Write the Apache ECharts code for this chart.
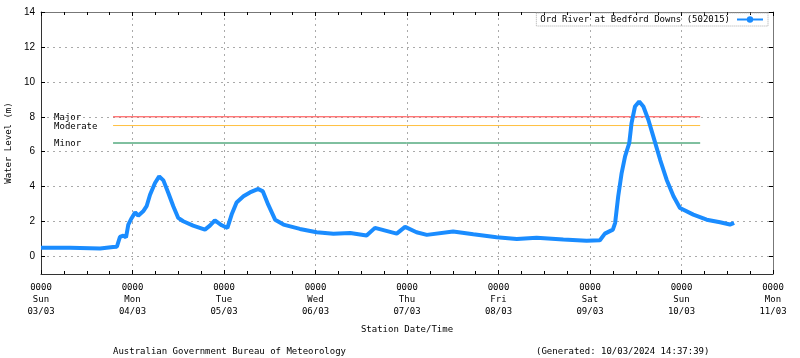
<!DOCTYPE html>
<html>
<head>
<meta charset="utf-8">
<script src="https://cdn.jsdelivr.net/npm/echarts@6/dist/echarts.min.js"></script>
<style>html,body{margin:0;padding:0;background:#fff}#c{width:800px;height:358px}</style>
</head>
<body>
<div id="c"></div>
<script>
// ---- data ----
var seriesName = 'Ord River at Bedford Downs (502015)';
// hours since Sun 03/03 00:00
var hours = [0, 7.6, 15.5, 18.9, 19.9, 20.7, 21.6, 22.3, 22.9, 23.8, 24.7, 25.5, 26.8, 27.7, 28.6, 29.9, 31.0, 32.1, 33.4, 34.7, 36.0, 37.3, 39.9, 43.0, 44.3, 45.6, 47.4, 48.9, 50.0, 51.3, 53.1, 54.8, 57.0, 58.2, 59.6, 61.4, 63.6, 67.9, 72.3, 76.7, 81.1, 85.4, 87.6, 93.3, 95.5, 98.5, 101.2, 108.1, 113.4, 119.5, 124.8, 130.0, 137.0, 143.1, 146.6, 147.9, 150.0, 150.6, 151.4, 152.3, 153.2, 154.3, 154.9, 155.8, 156.9, 158.0, 159.3, 160.6, 162.4, 164.1, 165.9, 167.6, 171.1, 174.6, 178.1, 180.7, 181.8];
var levels = [0.51, 0.50, 0.46, 0.55, 0.56, 1.12, 1.20, 1.09, 1.83, 2.21, 2.53, 2.34, 2.59, 2.88, 3.54, 4.21, 4.59, 4.36, 3.64, 2.88, 2.21, 2.02, 1.77, 1.54, 1.77, 2.07, 1.79, 1.64, 2.40, 3.10, 3.45, 3.67, 3.87, 3.73, 2.97, 2.11, 1.83, 1.58, 1.39, 1.31, 1.35, 1.20, 1.64, 1.31, 1.70, 1.39, 1.24, 1.43, 1.27, 1.10, 1.01, 1.07, 0.97, 0.90, 0.93, 1.31, 1.54, 1.93, 3.45, 4.78, 5.73, 6.50, 7.64, 8.59, 8.88, 8.59, 7.83, 6.88, 5.54, 4.40, 3.45, 2.78, 2.40, 2.11, 1.96, 1.83, 1.93];

var thresholdNames = ['Major', 'Moderate', 'Minor'];
var thresholdValues = [8, 7.5, 6.5];
var thresholdColors = ['#ff4040', '#ffc040', '#008040'];
var thresholdStart = 18.9, thresholdEnd = 172.9;

var xDayLabels = ['Sun', 'Mon', 'Tue', 'Wed', 'Thu', 'Fri', 'Sat', 'Sun', 'Mon'];
var xDateLabels = ['03/03', '04/03', '05/03', '06/03', '07/03', '08/03', '09/03', '10/03', '11/03'];
var yTicks = [0, 2, 4, 6, 8, 10, 12, 14];

var mono = 'DejaVu Sans Mono';
var chart = echarts.init(document.getElementById('c'), null, {renderer: 'canvas'});

var mainData = hours.map(function (h, i) { return [h, levels[i]]; });
var series = [{
  name: seriesName, type: 'line', data: mainData,
  showSymbol: false, symbol: 'circle', symbolSize: 5,
  lineStyle: {color: '#1a8cff', width: 4}, itemStyle: {color: '#1a8cff'},
  smooth: false, z: 5
}];
thresholdNames.forEach(function (n, i) {
  series.push({
    name: n, type: 'line', silent: true, showSymbol: false, symbol: 'none',
    data: [[thresholdStart, thresholdValues[i]], [thresholdEnd, thresholdValues[i]]],
    lineStyle: {color: thresholdColors[i], width: 1},
    z: 3,
    markPoint: {
      symbol: 'rect', symbolSize: [1, 1], silent: true,
      itemStyle: {color: 'rgba(0,0,0,0)'},
      data: [{coord: [thresholdStart, thresholdValues[i]],
        label: {show: true, formatter: n, position: 'inside', align: 'left', offset: [-59, 1],
          fontFamily: mono, fontSize: 9, color: '#000'}}]
    }
  });
});

chart.setOption({
  animation: false,
  backgroundColor: '#fff',
  grid: {left: 41, right: 27, top: 12, bottom: 84, outerBoundsMode: 'none', containLabel: false},
  title: [
    {text: 'Australian Government Bureau of Meteorology', left: 108, top: 342,
     textStyle: {fontFamily: mono, fontSize: 9, fontWeight: 'normal', color: '#000'}},
    {text: '(Generated: 10/03/2024 14:37:39)', left: 531, top: 342,
     textStyle: {fontFamily: mono, fontSize: 9, fontWeight: 'normal', color: '#000'}}
  ],
  legend: {
    data: [seriesName], right: 32, top: 13, itemWidth: 26, itemHeight: 8,
    align: 'right', padding: [2, 4, 2, 4], borderColor: '#aaa', borderWidth: 1, borderType: 'dotted',
    textStyle: {fontFamily: mono, fontSize: 9, color: '#000', padding: [0, 2, 0, 0]}
  },
  xAxis: [{
    type: 'value', min: 0, max: 192, interval: 24,
    name: 'Station Date/Time', nameLocation: 'middle', nameGap: 51,
    nameTextStyle: {fontFamily: mono, fontSize: 9, color: '#000'},
    axisLine: {onZero: false, lineStyle: {color: '#333', width: 1}},
    axisTick: {inside: true, length: 4, lineStyle: {color: '#000'}},
    minorTick: {show: true, splitNumber: 4, length: 3, lineStyle: {color: '#000'}},
    axisLabel: {fontFamily: mono, fontSize: 9, color: '#000', lineHeight: 12, margin: 8,
      formatter: function (v) { var i = Math.round(v / 24); return '0000\n' + xDayLabels[i] + '\n' + xDateLabels[i]; }},
    splitLine: {show: true, lineStyle: {color: '#aaa', type: [2, 4]}}
  }, {
    type: 'value', min: 0, max: 192, interval: 24, position: 'top',
    axisLine: {onZero: false, lineStyle: {color: '#777'}},
    axisTick: {inside: true, length: 4, lineStyle: {color: '#000'}},
    minorTick: {show: true, splitNumber: 4, length: 3, lineStyle: {color: '#000'}},
    axisLabel: {show: false}, splitLine: {show: false}
  }],
  yAxis: [{
    type: 'value', min: -1, max: 14,
    name: 'Water Level (m)', nameLocation: 'middle', nameGap: 28, nameRotate: 90,
    nameTextStyle: {fontFamily: mono, fontSize: 9, color: '#000'},
    axisLine: {show: true, onZero: false, lineStyle: {color: '#333'}},
    axisTick: {show: true, inside: true, length: 4, customValues: yTicks, lineStyle: {color: '#000'}},
    axisLabel: {fontFamily: 'Liberation Sans', fontSize: 10, color: '#000', margin: 6, customValues: yTicks},
    splitLine: {show: true, lineStyle: {color: '#aaa', type: [2, 4]}}
  }, {
    type: 'value', min: -1, max: 14, position: 'right',
    axisLine: {show: true, onZero: false, lineStyle: {color: '#777'}},
    axisTick: {show: true, inside: true, length: 4, customValues: yTicks, lineStyle: {color: '#000'}},
    axisLabel: {show: false}, splitLine: {show: false}
  }],
  series: series
});
</script>
</body>
</html>
